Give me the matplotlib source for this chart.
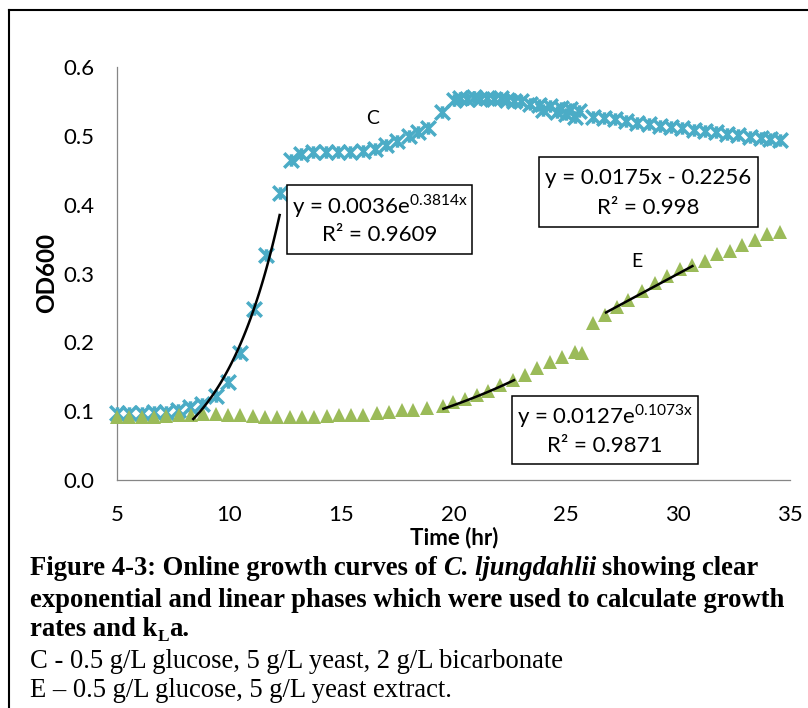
import numpy as np
import matplotlib
matplotlib.use('Agg')
import matplotlib.pyplot as plt
from matplotlib.path import Path
from matplotlib.patches import Rectangle
from matplotlib.lines import Line2D

W, H = 808, 708

# --- datos ---
c_time = [5.0, 5.55, 6.1, 6.65, 7.2, 7.7, 8.25, 8.8, 9.4, 9.95, 10.5, 11.1, 11.65, 12.25,
          12.75, 13.2, 13.75, 14.3, 14.85, 15.4, 15.95, 16.5, 17.0, 17.5, 18.0, 18.4, 18.85,
          19.5, 20.0, 20.3, 20.6, 20.9, 21.2, 21.5, 21.8, 22.1, 22.4, 22.7, 23.0, 23.4,
          23.8, 24.0, 24.3, 24.6, 24.8, 25.0, 25.2, 25.4, 25.6, 26.2, 26.7, 27.2, 27.7,
          28.2, 28.7, 29.2, 29.7, 30.2, 30.7, 31.2, 31.7, 32.2, 32.7, 33.2, 33.7, 34.1, 34.55]
c_od = [0.098, 0.098, 0.098, 0.099, 0.099, 0.102, 0.106, 0.110, 0.122, 0.143, 0.185, 0.249,
        0.327, 0.417, 0.465, 0.474, 0.476, 0.476, 0.476, 0.477, 0.478, 0.481, 0.487, 0.492,
        0.500, 0.505, 0.512, 0.535, 0.552, 0.555, 0.553, 0.556, 0.553, 0.555, 0.553, 0.555,
        0.552, 0.551, 0.550, 0.546, 0.545, 0.538, 0.544, 0.535, 0.541, 0.532, 0.539, 0.528,
        0.536, 0.528, 0.526, 0.524, 0.522, 0.519, 0.517, 0.515, 0.513, 0.511, 0.509, 0.507,
        0.505, 0.503, 0.501, 0.499, 0.497, 0.495, 0.494]

e_time = [5.0, 5.55, 6.1, 6.65, 7.2, 7.75, 8.3, 8.85, 9.4, 9.95, 10.5, 11.05, 11.6, 12.15,
          12.7, 13.25, 13.8, 14.35, 14.9, 15.45, 15.98, 16.57, 17.14, 17.69, 18.21, 18.8,
          19.54, 19.98, 20.5, 21.03, 21.55, 22.07, 22.67, 23.19, 23.7, 24.3, 24.82, 25.42,
          25.72, 26.24, 26.75, 27.27, 27.8, 28.39, 28.99, 29.51, 30.1, 30.62, 31.21, 31.74,
          32.33, 32.85, 33.45, 33.97, 34.56]
e_od = [0.091, 0.091, 0.092, 0.092, 0.093, 0.094, 0.095, 0.096, 0.096, 0.095, 0.094, 0.093,
        0.092, 0.092, 0.092, 0.092, 0.092, 0.093, 0.094, 0.094, 0.095, 0.097, 0.099, 0.101,
        0.102, 0.105, 0.108, 0.113, 0.118, 0.124, 0.130, 0.138, 0.145, 0.153, 0.162, 0.171,
        0.179, 0.186, 0.184, 0.228, 0.240, 0.252, 0.262, 0.274, 0.286, 0.296, 0.306, 0.313,
        0.318, 0.328, 0.333, 0.342, 0.349, 0.357, 0.361]

# lineas de tendencia (coeficientes del grafico) y su rango en x
c_exp = (0.0036, 0.3814)
c_exp_rango = (8.4, 12.25)
e_exp = (0.0127, 0.1073)
e_exp_rango = (19.55, 22.7)
e_lin = (0.0175, -0.2256)
e_lin_rango = (26.8, 30.65)

x_ticks = [5, 10, 15, 20, 25, 30, 35]
y_ticks = [0.0, 0.1, 0.2, 0.3, 0.4, 0.5, 0.6]

AZUL = '#4BACC6'
VERDE = '#9BBB59'
GRIS = '#868686'
FUENTE = 'Lato'


def px(x, y):
    # pixel de la figura -> fraccion de figura
    return x / W, 1 - y / H


fig = plt.figure(figsize=(W / 100, H / 100), dpi=100)
fig.patch.set_facecolor('white')

# marco del area del grafico
fig.add_artist(Line2D([9 / W, 9 / W], [0, 1 - 10 / H], color='black', lw=1.5,
                      transform=fig.transFigure))
fig.add_artist(Line2D([9 / W, 1], [1 - 10 / H, 1 - 10 / H], color='black', lw=1.5,
                      transform=fig.transFigure))

ax = fig.add_axes([117 / W, 1 - 480 / H, (790 - 117) / W, (480 - 67) / H])
ax.set_xlim(5, 35)
ax.set_ylim(0, 0.6)
for s in ['top', 'right']:
    ax.spines[s].set_visible(False)
for s in ['left', 'bottom']:
    ax.spines[s].set_color(GRIS)
    ax.spines[s].set_linewidth(0.9)

ax.set_xticks(x_ticks)
ax.set_xticklabels([str(t) for t in x_ticks])
ax.set_yticks(y_ticks)
ax.set_yticklabels([f'{t:.1f}' for t in y_ticks])
ax.tick_params(axis='both', length=0, labelsize=16)
ax.tick_params(axis='x', pad=18)
ax.tick_params(axis='y', pad=16)
for lab in ax.get_xticklabels() + ax.get_yticklabels():
    lab.set_fontfamily(FUENTE)

# marcador tipo "estrella" de Excel (x con barra vertical)
estrella = Path([(-1, -1), (1, 1), (-1, 1), (1, -1), (0, -0.85), (0, 0.85)],
                [Path.MOVETO, Path.LINETO, Path.MOVETO, Path.LINETO, Path.MOVETO, Path.LINETO])

ax.plot(c_time, c_od, ls='none', marker=estrella, ms=10.5, mfc='none', mec=AZUL, mew=2.5,
        clip_on=False, zorder=3)
ax.plot(e_time, e_od, ls='none', marker='^', ms=10, color=VERDE, mew=0,
        clip_on=False, zorder=4)

# tendencias
xx = np.linspace(*c_exp_rango, 60)
ax.plot(xx, c_exp[0] * np.exp(c_exp[1] * xx), color='black', lw=1.8, zorder=5)
xx = np.linspace(*e_exp_rango, 60)
ax.plot(xx, e_exp[0] * np.exp(e_exp[1] * xx), color='black', lw=1.8, zorder=5)
xx = np.array(e_lin_rango)
ax.plot(xx, e_lin[0] * xx + e_lin[1], color='black', lw=1.8, zorder=5)


def caja(izq, arr, der, aba, linea1, linea2):
    x0, y0 = px(izq, aba)
    x1, y1 = px(der, arr)
    fig.add_artist(Rectangle((x0, y0), x1 - x0, y1 - y0, transform=fig.transFigure,
                             facecolor='white', edgecolor='black', lw=1.1, zorder=6))
    cx = (x0 + x1) / 2
    fig.text(cx, y0 + 0.70 * (y1 - y0), linea1, ha='center', va='center', fontsize=16,
             family=FUENTE, zorder=7)
    fig.text(cx, y0 + 0.27 * (y1 - y0), linea2, ha='center', va='center', fontsize=16,
             family=FUENTE, zorder=7)


caja(287, 185, 472, 254, 'y = 0.0036e$^{\\mathregular{0.3814x}}$', 'R² = 0.9609')
caja(539, 157, 758, 227, 'y = 0.0175x - 0.2256', 'R² = 0.998')
caja(512, 396, 698, 464, 'y = 0.0127e$^{\\mathregular{0.1073x}}$', 'R² = 0.9871')

ax.text(16.41, 0.5245, 'C', ha='center', va='center', fontsize=14, family=FUENTE)
ax.text(28.18, 0.318, 'E', ha='center', va='center', fontsize=14, family=FUENTE)

fig.text(*px(454, 538), 'Time (hr)', ha='center', va='center', fontsize=16,
         fontweight='bold', family=FUENTE)
fig.text(*px(47, 273), 'OD600', ha='center', va='center', rotation=90, fontsize=17.5,
         fontweight='bold', family=FUENTE)

# --- leyenda de la figura (texto con estilos mezclados) ---
renderer = fig.canvas.get_renderer()
SERIF = 'Liberation Serif'
TAM = 19.2
NEG = dict(family=SERIF, fontsize=TAM, fontweight='bold')
NEG_IT = dict(family=SERIF, fontsize=TAM, fontweight='bold', style='italic')
NORMAL = dict(family=SERIF, fontsize=TAM)


def ancho(t):
    return t.get_window_extent(renderer).width / W


def espacio(estilo):
    a = fig.text(0, 0, 'x x', **estilo)
    b = fig.text(0, 0, 'xx', **estilo)
    w = ancho(a) - ancho(b)
    a.remove()
    b.remove()
    return w


def renglon(x, y, piezas):
    for texto, estilo, dy in piezas:
        if texto == ' ':
            x += espacio(estilo)
            continue
        t = fig.text(x, y + dy, texto, va='baseline', ha='left', **estilo)
        x += ancho(t)


x0 = 30 / W
renglon(x0, 1 - 575 / H, [('Figure 4-3: Online growth curves of', NEG, 0), (' ', NEG, 0),
                          ('C. ljungdahlii', NEG_IT, 0), (' ', NEG, 0),
                          ('showing clear', NEG, 0)])
renglon(x0, 1 - 607 / H, [('exponential and linear phases which were used to calculate growth',
                           NEG, 0)])
renglon(x0, 1 - 636 / H, [('rates and k', NEG, 0),
                          ('L', dict(family=SERIF, fontsize=12.5, fontweight='bold'), -5 / H),
                          ('a.', NEG, 0)])
renglon(x0, 1 - 668 / H, [('C - 0.5 g/L glucose, 5 g/L yeast, 2 g/L bicarbonate', NORMAL, 0)])
renglon(x0, 1 - 697 / H, [('E \u2013 0.5 g/L glucose, 5 g/L yeast extract.', NORMAL, 0)])

fig.savefig('out.png', dpi=100)
